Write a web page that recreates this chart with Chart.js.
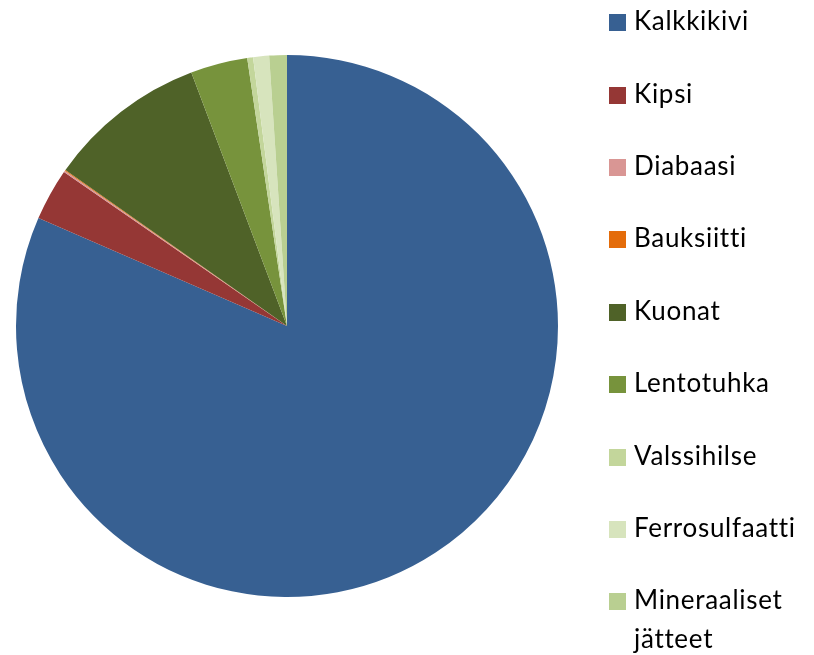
<!DOCTYPE html>
<html>
<head>
<meta charset="utf-8">
<script src="https://cdn.jsdelivr.net/npm/chart.js@4/dist/chart.umd.min.js"></script>
<style>
  html, body { margin: 0; padding: 0; background: #fff; }
  #wrap { position: relative; width: 814px; height: 655px; }
  #c { position: absolute; left: 0; top: 0; }
  #legend { position: absolute; left: 0; top: 0; width: 814px; height: 655px; font-family: Lato, "Open Sans", sans-serif; font-size: 26px; color: #000; letter-spacing: 0.7px; }
  .box { position: absolute; left: 609px; width: 17px; height: 17px; }
  .txt { position: absolute; left: 634px; line-height: 39px; white-space: nowrap; }
</style>
</head>
<body>
<div id="wrap">
  <canvas id="c" width="814" height="655"></canvas>
  <div id="legend"></div>
</div>
<script>
const categories = ["Kalkkikivi", "Kipsi", "Diabaasi", "Bauksiitti", "Kuonat", "Lentotuhka", "Valssihilse", "Ferrosulfaatti", "Mineraaliset jätteet"];
const legendLines = [["Kalkkikivi"], ["Kipsi"], ["Diabaasi"], ["Bauksiitti"], ["Kuonat"], ["Lentotuhka"], ["Valssihilse"], ["Ferrosulfaatti"], ["Mineraaliset", "jätteet"]];
const shares = [81.6, 3.1, 0.1, 0.05, 9.5, 3.4, 0.35, 0.95, 1.05];
const colors = ["#376092", "#953735", "#D99694", "#E46C0A", "#4F6228", "#77933C", "#C3D69B", "#D7E4BD", "#B9CF91"];

new Chart(document.getElementById('c'), {
  type: 'pie',
  data: {
    labels: categories,
    datasets: [{ data: shares, backgroundColor: colors, borderWidth: 0 }]
  },
  options: {
    responsive: false,
    animation: false,
    layout: { padding: { left: 16, top: 55, right: 256, bottom: 58 } },
    plugins: { legend: { display: false }, tooltip: { enabled: false } }
  }
});

const leg = document.getElementById('legend');
legendLines.forEach((lines, i) => {
  const baseline = 30.7 + i * 72.4;
  const b = document.createElement('div');
  b.className = 'box';
  b.style.top = (baseline - 16.5) + 'px';
  b.style.background = colors[i];
  const t = document.createElement('div');
  t.className = 'txt';
  t.style.top = (baseline - 29.6) + 'px';
  t.innerHTML = lines.join('<br>');
  leg.appendChild(b);
  leg.appendChild(t);
});
</script>
</body>
</html>
